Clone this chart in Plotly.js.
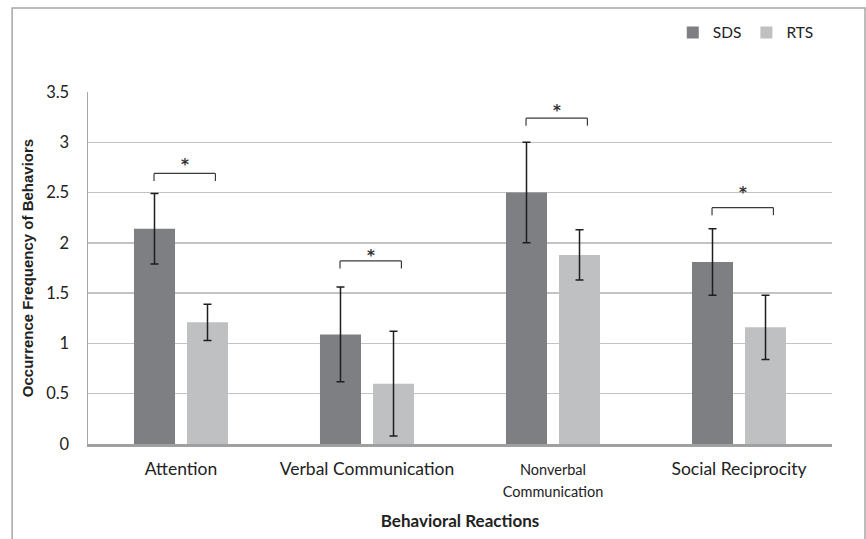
<!DOCTYPE html>
<html>
<head>
<meta charset="utf-8">
<script src="https://cdn.plot.ly/plotly-3.0.1.min.js"></script>
<style>html,body{margin:0;padding:0;background:#fff;}#chart{width:866px;height:539px;}</style>
</head>
<body>
<div id="chart"></div>
<script>
// ---- data ----
const categories = ["Attention", "Verbal Communication", "Nonverbal Communication", "Social Reciprocity"];
const tickLabels = ["Attention", "Verbal Communication", "<span style=\"font-size:14.5px\">Nonverbal<br>Communication</span>", "Social Reciprocity"];
const sdsValues = [2.14, 1.09, 2.50, 1.81];
const sdsErrors = [0.35, 0.47, 0.50, 0.33];
const rtsValues = [1.21, 0.60, 1.88, 1.16];
const rtsErrors = [0.18, 0.52, 0.25, 0.32];
const bracketTops = [2.69, 1.82, 3.24, 2.35];
const starHeights = [2.80, 1.90, 3.34, 2.53];

const idx = categories.map((c, i) => i);

const traces = [
  {
    type: 'bar', name: 'SDS', x: idx, y: sdsValues,
    marker: {color: '#7e7f83'},
    error_y: {type: 'data', array: sdsErrors, visible: true, color: '#1e1e1e', thickness: 1.5, width: 4}
  },
  {
    type: 'bar', name: 'RTS', x: idx, y: rtsValues,
    marker: {color: '#bfc0c2'},
    error_y: {type: 'data', array: rtsErrors, visible: true, color: '#1e1e1e', thickness: 1.5, width: 4}
  }
];

const shapes = [];
const annotations = [];
const bl = -0.145, br = 0.185, drop = 0.075;
idx.forEach(i => {
  const t = bracketTops[i];
  const ln = {color: '#3a3a3a', width: 1.2};
  shapes.push({type: 'line', xref: 'x', yref: 'y', x0: i + bl, x1: i + br, y0: t, y1: t, line: ln});
  shapes.push({type: 'line', xref: 'x', yref: 'y', x0: i + bl, x1: i + bl, y0: t, y1: t - drop, line: ln});
  shapes.push({type: 'line', xref: 'x', yref: 'y', x0: i + br, x1: i + br, y0: t, y1: t - drop, line: ln});
  annotations.push({xref: 'x', yref: 'y', x: i + (bl + br) / 2, y: starHeights[i], text: '<b>*</b>', showarrow: false,
    font: {family: 'DejaVu Sans', size: 15, color: '#333'}, yanchor: 'middle', yshift: -3});
});

// outer frame
shapes.push({type: 'rect', xref: 'paper', yref: 'paper', x0: -0.102, x1: 1.0444, y0: -0.4, y1: 1.2386,
  line: {color: '#a6a6a6', width: 1.5}, layer: 'below'});

const layout = {
  width: 866, height: 539,
  margin: {l: 88, r: 34, t: 92, b: 95},
  paper_bgcolor: '#ffffff', plot_bgcolor: '#ffffff',
  font: {family: 'Lato, "Open Sans", sans-serif', color: '#222'},
  barmode: 'group', bargap: 0.43, bargroupgap: 0.226,
  showlegend: true,
  legend: {orientation: 'h', x: 0.786, y: 1.168, xanchor: 'left', yanchor: 'middle',
    font: {family: 'Lato, sans-serif', size: 15.5, color: '#222'}, itemwidth: 30, traceorder: 'normal'},
  xaxis: {
    type: 'linear', range: [-0.5, 3.5],
    tickvals: idx, ticktext: tickLabels,
    tickfont: {family: 'Lato, sans-serif', size: 17.5, color: '#222'},
    showgrid: false, zeroline: false,
    showline: true, linecolor: '#a0a0a0', linewidth: 2.5,
    ticks: 'outside', ticklen: 7, tickcolor: 'rgba(0,0,0,0)',
    title: {text: '<b>Behavioral Reactions</b>', font: {family: 'Lato, sans-serif', size: 17, color: '#222'}, standoff: 16}
  },
  yaxis: {
    range: [0, 3.5], dtick: 0.5, tick0: 0,
    tickfont: {family: 'Lato, sans-serif', size: 16.5, color: '#222'},
    showgrid: true, gridcolor: '#c3c3c3', gridwidth: 1.5,
    zeroline: false,
    showline: true, linecolor: '#a6a6a6', linewidth: 1.5,
    ticks: 'outside', ticklen: 14, tickcolor: 'rgba(0,0,0,0)',
    title: {text: '<b>Occurrence Frequency of Behaviors</b>', font: {family: 'Liberation Sans, Arial, sans-serif', size: 15, color: '#222'}, standoff: 9}
  },
  shapes: shapes,
  annotations: annotations
};

Plotly.newPlot('chart', traces, layout, {displayModeBar: false, staticPlot: true});
</script>
</body>
</html>
